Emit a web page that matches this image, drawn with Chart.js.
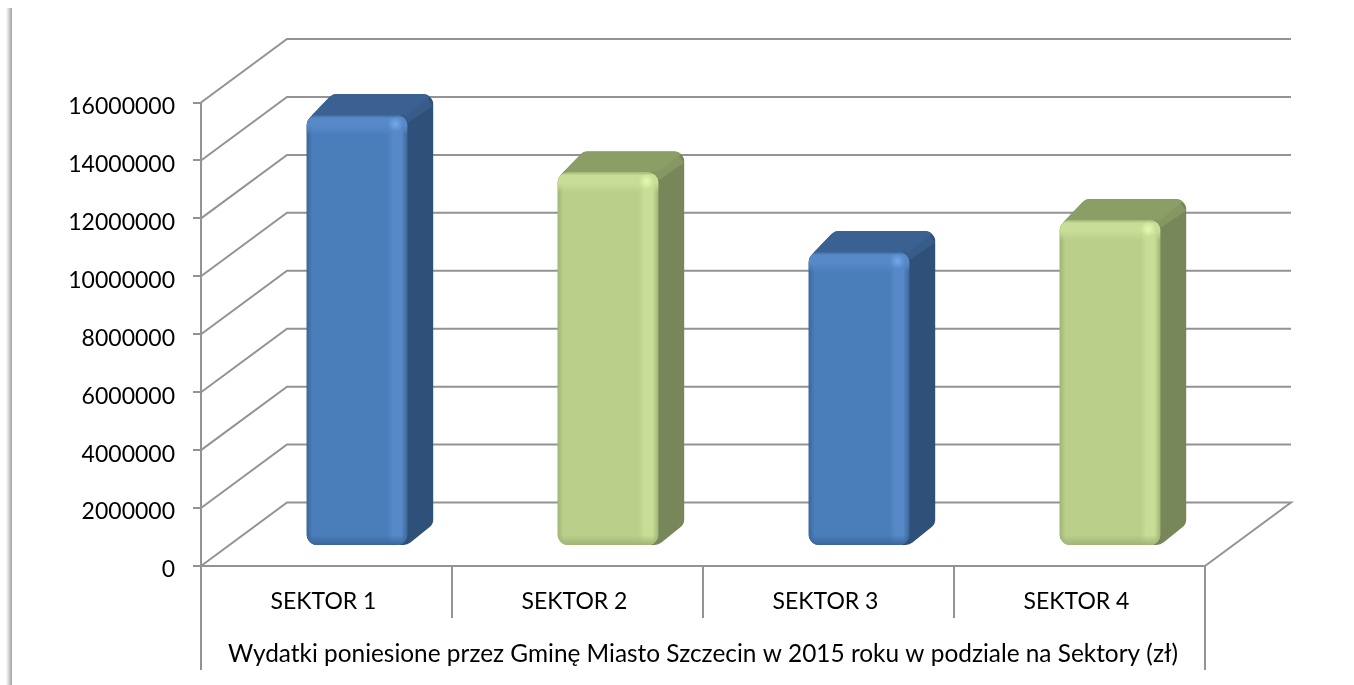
<!DOCTYPE html>
<html>
<head>
<meta charset="utf-8">
<title>Wydatki 2015</title>
<script src="https://cdn.jsdelivr.net/npm/chart.js@4"></script>
<style>
    html, body { margin: 0; padding: 0; background: #fff; }
    canvas { display: block; }
</style>
</head>
<body>
<canvas id="chart" width="1354" height="685"></canvas>
<script>
// Values
const categories = ['SEKTOR 1', 'SEKTOR 2', 'SEKTOR 3', 'SEKTOR 4'];
const expenses = [14880000, 12900000, 10150000, 11250000];
const axisTitle = 'Wydatki poniesione przez Gminę Miasto Szczecin w 2015 roku w podziale na Sektory (zł)';

const palette = [
    { front: '#4a7ebb', light: '#5789c9', spot: '#74a8ea', dark: '#3a6699', top: '#3a6191', side: '#2f5079' },
    { front: '#bad08a', light: '#c8de96', spot: '#e6f9b2', dark: '#a0b476', top: '#8b9e66', side: '#78875a' }
];
const barColors = categories.map((c, i) => palette[i % 2]);

const gridColor = '#939393';
const wall = { dx: 86, dy: 63.5 };    // depth of the back wall
const barShift = { dx: 30.5, dy: 20 };  // how far the bars stand behind the axis
const barDepth = { dx: 26, dy: 21 };

function roundedPoly(ctx, pts, r) {
    const n = pts.length;
    ctx.beginPath();
    ctx.moveTo((pts[n - 1][0] + pts[0][0]) / 2, (pts[n - 1][1] + pts[0][1]) / 2);
    for (let i = 0; i < n; i++) {
        const p = pts[i], q = pts[(i + 1) % n];
        ctx.arcTo(p[0], p[1], (p[0] + q[0]) / 2, (p[1] + q[1]) / 2, r);
    }
    ctx.closePath();
}

// One bar as a rounded box, placed from the bar element of the chart
function drawBox(ctx, bar, c) {
    const x0 = bar.x - bar.width / 2 + barShift.dx;
    const x1 = bar.x + bar.width / 2 + barShift.dx;
    const y0 = bar.y - barShift.dy;
    const y1 = bar.base - barShift.dy;
    const d = barDepth;

    ctx.save();
    roundedPoly(ctx, [[x0, y0 + 6], [x0 + d.dx, y0 - d.dy], [x1 + d.dx, y0 - d.dy],
        [x1 + d.dx, y1 - d.dy], [x1, y1], [x0, y1]], 11);
    ctx.clip();
    ctx.fillStyle = c.side;
    ctx.fillRect(x0, y0 - d.dy, x1 - x0 + d.dx, y1 - y0 + d.dy);

    ctx.fillStyle = c.top;
    ctx.beginPath();
    ctx.moveTo(x0, y0);
    ctx.lineTo(x0 + d.dx, y0 - d.dy);
    ctx.lineTo(x1 + d.dx, y0 - d.dy);
    ctx.lineTo(x1, y0);
    ctx.closePath();
    ctx.fill();

    // soft ridge between top and side
    ctx.strokeStyle = c.top;
    ctx.globalAlpha = 0.7;
    ctx.lineWidth = 9;
    ctx.beginPath();
    ctx.moveTo(x1 - 2, y0 + 4);
    ctx.lineTo(x1 + d.dx - 3, y0 - d.dy + 8);
    ctx.stroke();
    ctx.globalAlpha = 1;
    ctx.restore();

    // front face
    ctx.save();
    ctx.beginPath();
    ctx.roundRect(x0, y0, x1 - x0, y1 - y0, 11);
    ctx.clip();
    ctx.fillStyle = c.front;
    ctx.fillRect(x0, y0, x1 - x0, y1 - y0);

    const w = x1 - x0;
    const h = y1 - y0;
    const gx = ctx.createLinearGradient(x0, 0, x1, 0);
    gx.addColorStop(0, c.dark);
    gx.addColorStop(6 / w, c.front);
    gx.addColorStop((w - 20) / w, c.front);
    gx.addColorStop((w - 14) / w, c.light);
    gx.addColorStop((w - 6) / w, c.light);
    gx.addColorStop(1, c.dark);
    ctx.fillStyle = gx;
    ctx.fillRect(x0, y0, w, h);

    const gTop = ctx.createLinearGradient(0, y0, 0, y0 + 20);
    gTop.addColorStop(0, c.dark);
    gTop.addColorStop(0.15, c.light);
    gTop.addColorStop(0.55, c.light);
    gTop.addColorStop(1, c.light + '00');
    ctx.fillStyle = gTop;
    ctx.fillRect(x0, y0, w, 20);

    const gBottom = ctx.createLinearGradient(0, y1 - 10, 0, y1);
    gBottom.addColorStop(0, c.dark + '00');
    gBottom.addColorStop(1, c.dark);
    ctx.fillStyle = gBottom;
    ctx.fillRect(x0, y1 - 10, w, 10);

    // highlight where the two bevels meet
    const sx = x1 - 12, sy = y0 + 9;
    const spot = ctx.createRadialGradient(sx, sy, 0, sx, sy, 8);
    spot.addColorStop(0, c.spot);
    spot.addColorStop(1, c.spot + '00');
    ctx.fillStyle = spot;
    ctx.fillRect(sx - 8, sy - 8, 16, 16);
    ctx.restore();
}

const box3d = {
    id: 'box3d',
    beforeDraw(chart) {
        // shadow down the left edge of the pasted picture
        const ctx = chart.ctx;
        const g = ctx.createLinearGradient(6, 0, 12, 0);
        g.addColorStop(0, 'rgba(150,150,150,0)');
        g.addColorStop(1, 'rgba(150,150,150,0.9)');
        ctx.fillStyle = g;
        ctx.fillRect(6, 8, 6, chart.height - 8);
    },
    beforeDatasetsDraw(chart) {
        const ctx = chart.ctx;
        const { left, right, bottom } = chart.chartArea;
        const y = chart.scales.y;
        ctx.save();
        ctx.strokeStyle = gridColor;
        ctx.lineWidth = 2;
        y.ticks.forEach(t => {
            const py = y.getPixelForValue(t.value);
            ctx.beginPath();
            ctx.moveTo(left, py);
            ctx.lineTo(left + wall.dx, py - wall.dy);
            ctx.lineTo(right + wall.dx, py - wall.dy);
            if (t.value === 0) ctx.lineTo(right, py);
            ctx.stroke();
        });
        // outer frame of the category table
        ctx.beginPath();
        ctx.moveTo(left, bottom);
        ctx.lineTo(left, 670);
        ctx.moveTo(right, bottom);
        ctx.lineTo(right, 670);
        ctx.stroke();
        ctx.restore();
    },
    beforeDatasetDraw(chart, args) {
        chart.getDatasetMeta(args.index).data.forEach((bar, i) => {
            drawBox(chart.ctx, bar, barColors[i]);
        });
        return false;
    }
};

new Chart(document.getElementById('chart'), {
    type: 'bar',
    data: {
        labels: categories,
        datasets: [{
            data: expenses,
            backgroundColor: barColors.map(c => c.front),
            barPercentage: 0.402,
            categoryPercentage: 1
        }]
    },
    plugins: [box3d],
    options: {
        responsive: false,
        animation: false,
        layout: { padding: { left: 0, right: 149, top: 102.5, bottom: 0 } },
        plugins: { legend: { display: false }, tooltip: { enabled: false } },
        scales: {
            x: {
                afterFit: s => { s.height = 119; },
                grid: { offset: true, drawOnChartArea: false, tickLength: 52, color: gridColor, lineWidth: 2 },
                border: { color: gridColor, width: 2 },
                ticks: { color: '#000', font: { family: 'Lato', size: 23 }, padding: -30, labelOffset: -3, maxRotation: 0 },
                title: { display: true, text: axisTitle, color: '#000', font: { family: 'Lato', size: 24.4 }, padding: { top: 0, bottom: 16 } }
            },
            y: {
                min: 0,
                max: 16000000,
                afterFit: s => { s.width = 201; },
                grid: { drawOnChartArea: false, tickLength: 8, color: gridColor, lineWidth: 2 },
                border: { color: gridColor, width: 2 },
                ticks: { color: '#000', font: { family: 'Lato', size: 23 }, padding: 18, labelOffset: 4, stepSize: 2000000, callback: v => String(v) }
            }
        }
    }
});
</script>
</body>
</html>
